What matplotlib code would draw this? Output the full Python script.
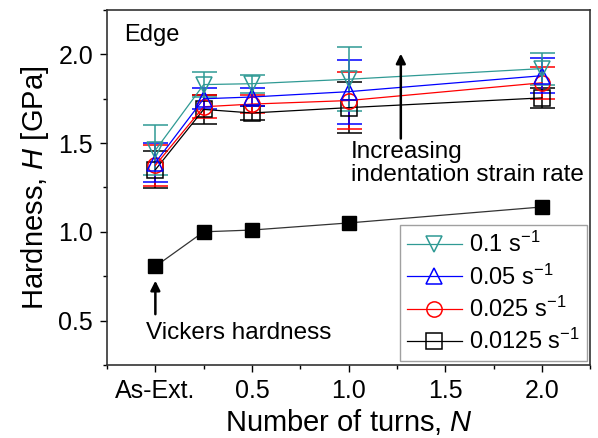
import matplotlib
matplotlib.use("Agg")
import matplotlib.pyplot as plt
from matplotlib.ticker import MultipleLocator

plt.rcParams['font.family'] = ['Liberation Sans', 'DejaVu Sans']
plt.rcParams['mathtext.fontset'] = 'custom'
plt.rcParams['mathtext.rm'] = 'Liberation Sans'
plt.rcParams['mathtext.it'] = 'Liberation Sans:italic'

# number of turns (As-Ext. = 0)
turns = [0, 0.25, 0.5, 1.0, 2.0]
tick_pos = [0, 0.5, 1.0, 1.5, 2.0]
tick_labels = ["As-Ext.", "0.5", "1.0", "1.5", "2.0"]

# nanoindentation hardness (GPa) at each strain rate, with error
h_01 = [1.46, 1.83, 1.835, 1.86, 1.92]
e_01 = [0.14, 0.07, 0.05, 0.18, 0.09]
h_005 = [1.39, 1.75, 1.76, 1.79, 1.88]
e_005 = [0.11, 0.06, 0.05, 0.18, 0.10]
h_0025 = [1.375, 1.705, 1.72, 1.74, 1.84]
e_0025 = [0.115, 0.065, 0.05, 0.16, 0.09]
h_00125 = [1.35, 1.69, 1.67, 1.70, 1.755]
e_00125 = [0.105, 0.08, 0.04, 0.145, 0.055]

vickers = [0.805, 1.00, 1.01, 1.05, 1.14]

series = [
    (h_01, e_01, "#2f9a94", "v", "0.1 s$^{-1}$"),
    (h_005, e_005, "#0000ff", "^", "0.05 s$^{-1}$"),
    (h_0025, e_0025, "#ff0000", "o", "0.025 s$^{-1}$"),
    (h_00125, e_00125, "#000000", "s", "0.0125 s$^{-1}$"),
]

fig = plt.figure(figsize=(5.98, 4.38), dpi=100)
ax = fig.add_axes([0.179, 0.167, 0.808, 0.81])

handles = []
for h, e, c, m, lab in reversed(series):
    ax.errorbar(turns, h, yerr=e, fmt="none", ecolor=c, elinewidth=1.1,
                capsize=9, capthick=1.1, zorder=2)
for h, e, c, m, lab in reversed(series):
    ln, = ax.plot(turns, h, color=c, lw=0.9, marker=m, ms=11, mfc="none",
                  mec=c, mew=1.1, label=lab, zorder=3)
    handles.append(ln)

ax.plot(turns, vickers, color="#333333", lw=0.9, marker="s", ms=10,
        mfc="black", mec="black", zorder=3)

ax.set_xlim(-0.25, 2.25)
ax.set_ylim(0.25, 2.25)
ax.set_xticks(tick_pos)
ax.set_xticklabels(tick_labels)
ax.xaxis.set_minor_locator(MultipleLocator(0.25))
ax.yaxis.set_major_locator(MultipleLocator(0.5))
ax.yaxis.set_minor_locator(MultipleLocator(0.25))
ax.tick_params(which="major", direction="out", length=5, width=1, labelsize=18,
               pad=5)
ax.tick_params(which="minor", direction="out", length=3, width=1)
ax.tick_params(top=False, right=False)
for s in ax.spines.values():
    s.set_linewidth(1.2)
    s.set_color("#333333")

ax.set_xlabel("Number of turns, $N$", fontsize=21, labelpad=3)
ax.set_ylabel("Hardness, $H$ [GPa]", fontsize=21, labelpad=5)

ax.text(-0.16, 2.11, "Edge", fontsize=17, va="center")
ax.text(1.01, 1.51, "Increasing\nindentation strain rate", fontsize=17.5,
        va="top", linespacing=1.05)
ax.annotate("", xy=(1.27, 2.02), xytext=(1.27, 1.51),
            arrowprops=dict(arrowstyle="-|>", color="black", lw=1.8,
                            mutation_scale=14))
ax.text(-0.05, 0.43, "Vickers hardness", fontsize=17.5, va="center")
ax.annotate("", xy=(0, 0.74), xytext=(0, 0.52),
            arrowprops=dict(arrowstyle="-|>", color="black", lw=1.8,
                            mutation_scale=14))

leg = ax.legend(handles=handles[::-1], loc="lower right", fontsize=17,
                frameon=True, fancybox=False, edgecolor="#888888",
                borderaxespad=0.15, handlelength=2.3, labelspacing=0.3,
                handletextpad=0.3, borderpad=0.3)
leg.get_frame().set_linewidth(1.0)

fig.savefig("out.png", dpi=100)
